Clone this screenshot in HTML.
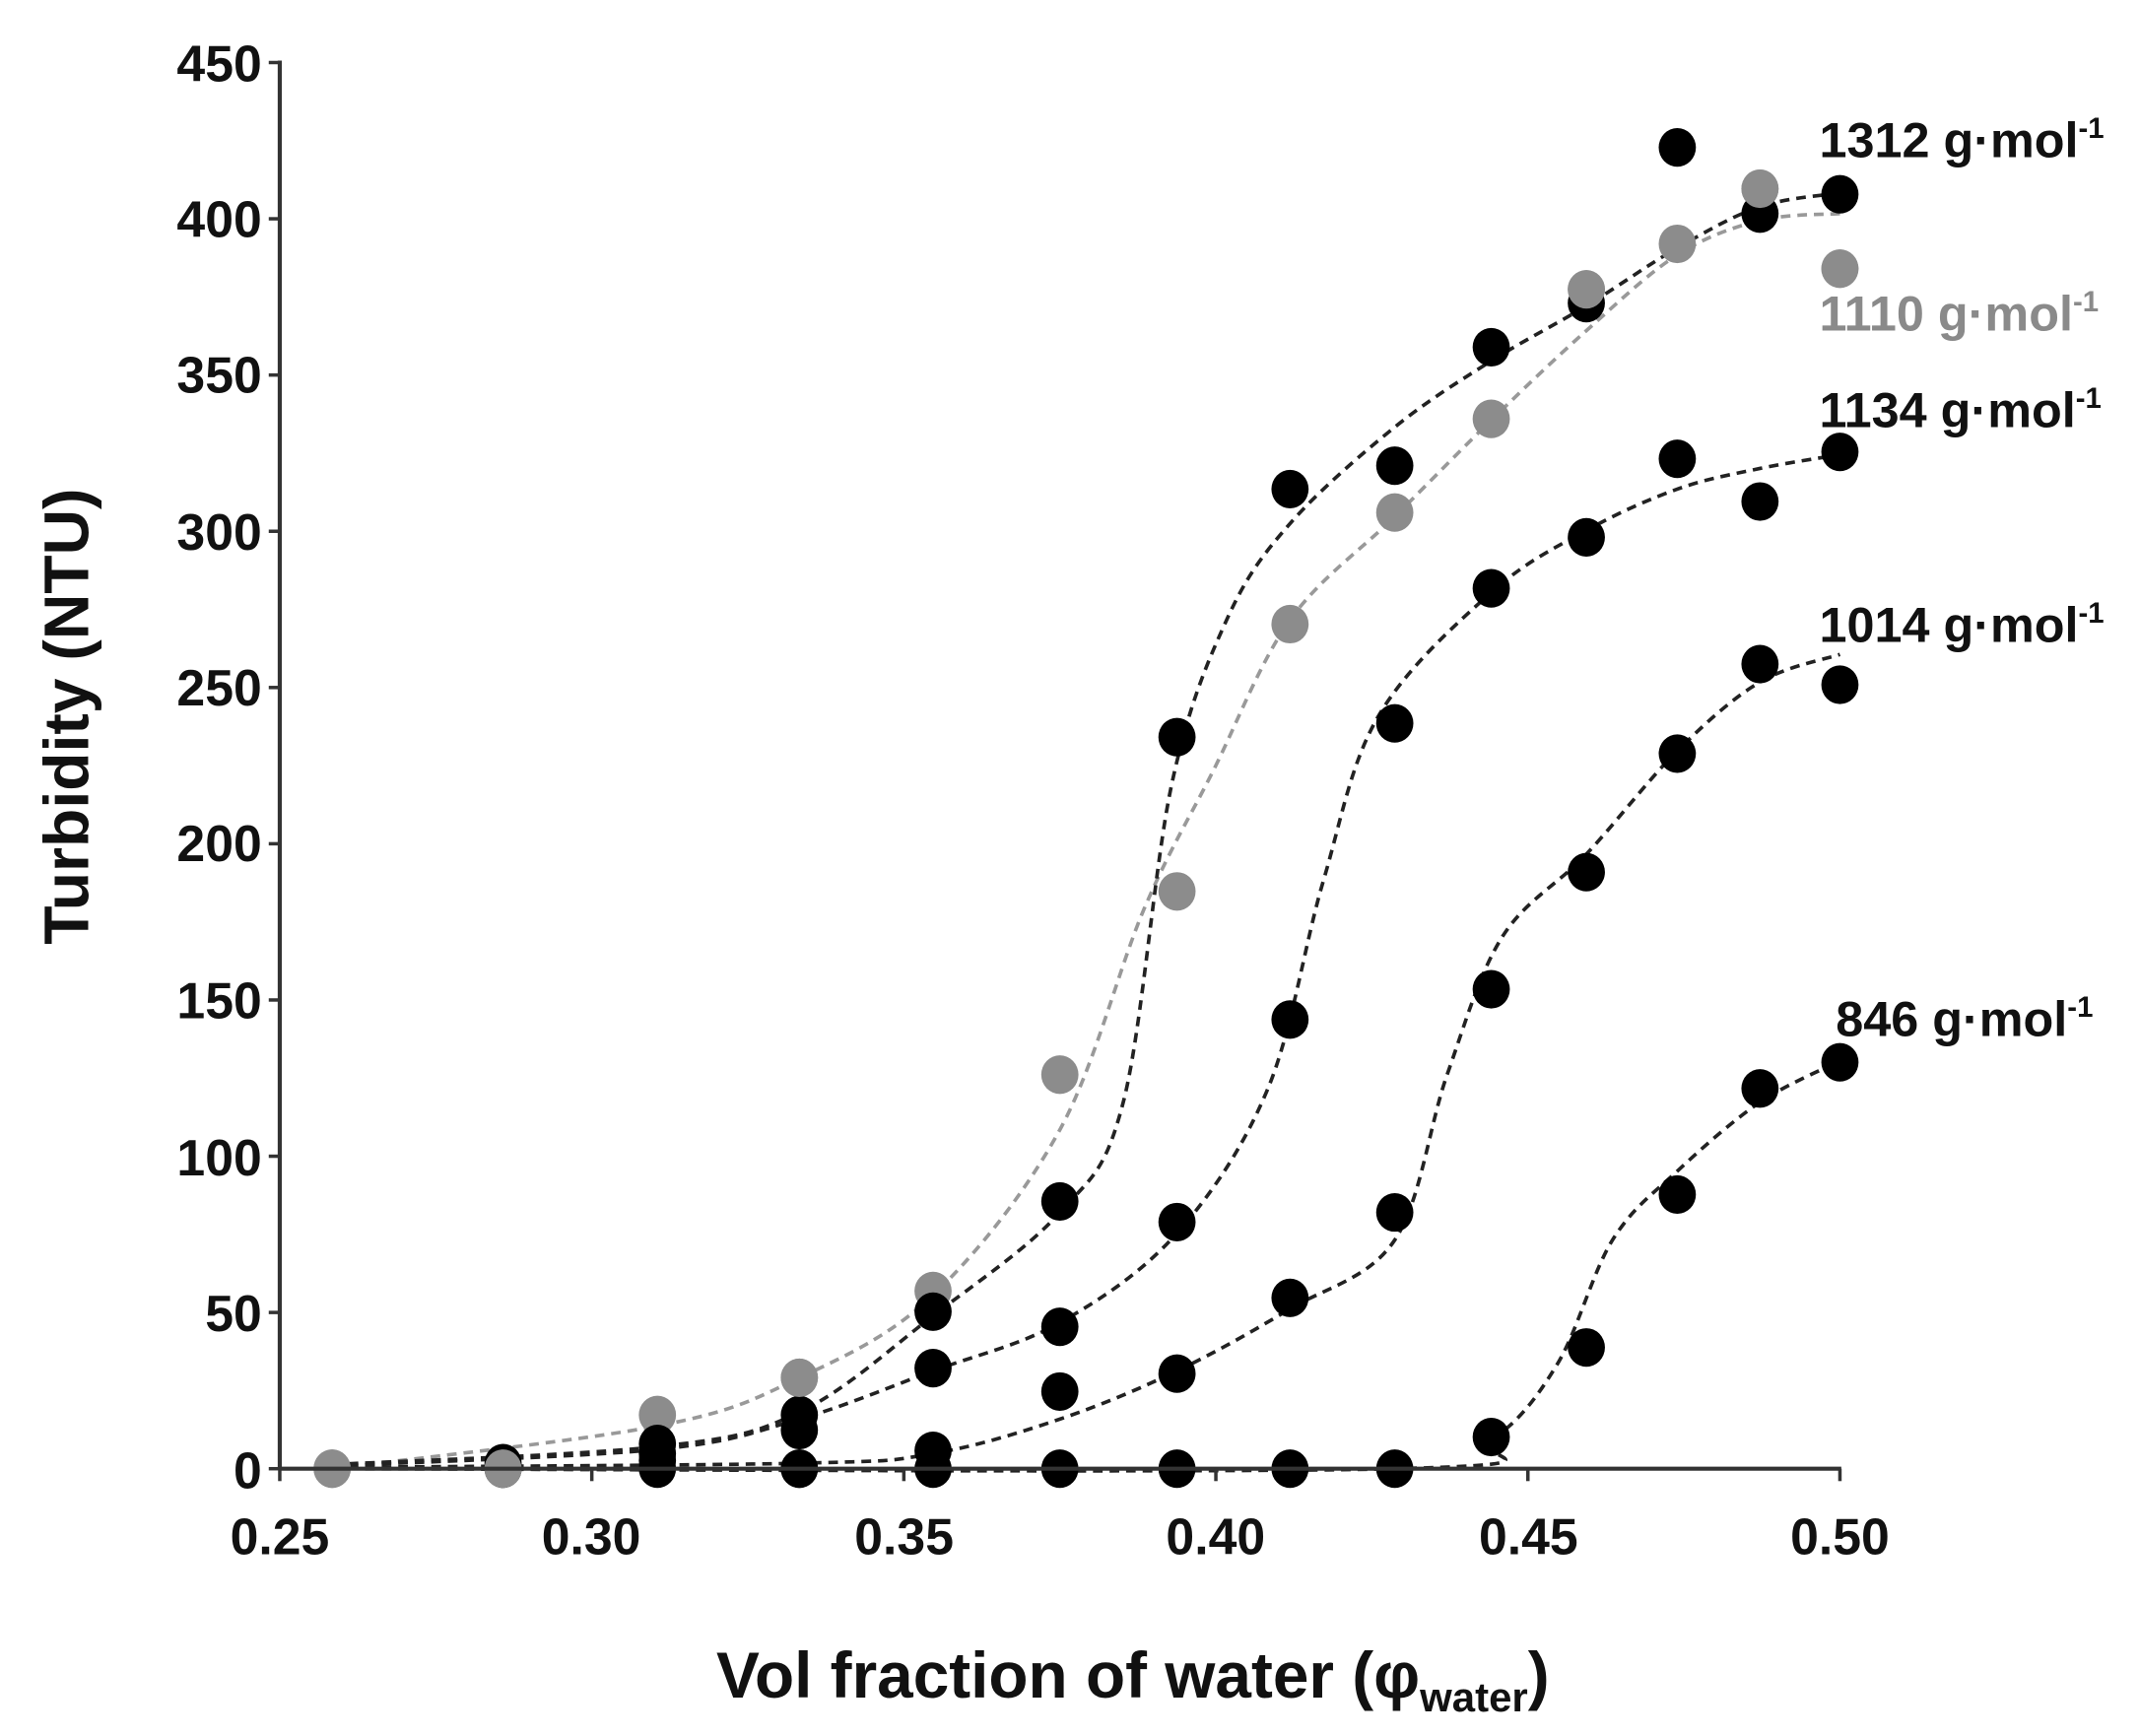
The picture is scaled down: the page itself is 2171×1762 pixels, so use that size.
<!DOCTYPE html>
<html><head><meta charset="utf-8"><style>
html,body{margin:0;padding:0;background:#fff;}
svg{display:block;}
text{font-family:"Liberation Sans",Arial,sans-serif;font-weight:bold;}
</style></head><body>
<svg id="s" width="2171" height="1762" viewBox="0 0 1552 1260" preserveAspectRatio="none" xmlns="http://www.w3.org/2000/svg">
<rect width="1552" height="1260" fill="#fff"/>
<g id="curves" fill="none" stroke-width="2.6" stroke-dasharray="7,5"></g>
<g id="pts"></g>
<g stroke="#333" stroke-width="3">
<line x1="203" y1="44" x2="203" y2="1067"/>
<line x1="202" y1="1066" x2="1336" y2="1066"/>
</g>
<g id="ticks" stroke="#333" stroke-width="2.5"></g>
<g font-size="37" text-anchor="end" fill="#111" transform="scale(1,1)">
<text x="190" y="59">450</text><text x="190" y="172">400</text><text x="190" y="285">350</text>
<text x="190" y="399">300</text><text x="190" y="512">250</text><text x="190" y="625">200</text>
<text x="190" y="739">150</text><text x="190" y="853">100</text><text x="190" y="966">50</text>
<text x="190" y="1080">0</text>
</g>
<g font-size="37" text-anchor="middle" fill="#111">
<text x="203" y="1128">0.25</text><text x="429" y="1128">0.30</text><text x="656" y="1128">0.35</text>
<text x="882" y="1128">0.40</text><text x="1109" y="1128">0.45</text><text x="1335" y="1128">0.50</text>
</g>
<text x="822" y="1232" font-size="47" text-anchor="middle" fill="#111">Vol fraction of water (φ<tspan font-size="30" dy="10">water</tspan><tspan dy="-10">)</tspan></text>
<text transform="translate(64,520) rotate(-90)" font-size="46" text-anchor="middle" fill="#111">Turbidity (NTU)</text>
<g font-size="36" fill="#111">
<text x="1320" y="114">1312 g·mol<tspan font-size="21" dy="-14">-1</tspan></text>
<text x="1320" y="240" fill="#8a8a8a">1110 g·mol<tspan font-size="21" dy="-14">-1</tspan></text>
<text x="1320" y="310">1134 g·mol<tspan font-size="21" dy="-14">-1</tspan></text>
<text x="1320" y="466">1014 g·mol<tspan font-size="21" dy="-14">-1</tspan></text>
<text x="1332" y="752">846 g·mol<tspan font-size="21" dy="-14">-1</tspan></text>
</g>
</svg>
<script>
var NS="http://www.w3.org/2000/svg";
function el(t,a,p){var e=document.createElementNS(NS,t);for(var k in a)e.setAttribute(k,a[k]);p.appendChild(e);return e;}
var tk=document.getElementById('ticks');
for(var i=0;i<10;i++){var y=1066-i*113.4;el('line',{x1:195,y1:y,x2:203,y2:y},tk);}
for(var i=0;i<6;i++){var x=203+i*226.4;el('line',{x1:x,y1:1066,x2:x,y2:1075},tk);}
function cr(p){var d="M"+p[0][0]+","+p[0][1];for(var i=0;i<p.length-1;i++){var p0=p[i-1]||p[i],p1=p[i],p2=p[i+1],p3=p[i+2]||p2;
d+=" C"+(p1[0]+(p2[0]-p0[0])/6)+","+(p1[1]+(p2[1]-p0[1])/6)+" "+(p2[0]-(p3[0]-p1[0])/6)+","+(p2[1]-(p3[1]-p1[1])/6)+" "+p2[0]+","+p2[1];}return d;}
var cv=document.getElementById('curves');
var curves=[
["#999",[[241,1066],[477,1035],[580,1000],[677,940],[769,820],[830,660],[880,560],[936,450],[1012,375],[1082,305],[1151,240],[1217,185],[1277,160],[1335,155]]],
["#222",[[241,1063],[477,1050],[580,1025],[677,955],[769,880],[815,800],[850,570],[890,450],[936,380],[1012,310],[1082,262],[1151,222],[1217,180],[1277,150],[1335,140]]],
["#222",[[241,1064],[477,1052],[580,1030],[677,995],[769,960],[854,895],[920,790],[960,640],[1000,520],[1082,430],[1151,385],[1217,355],[1277,340],[1335,330]]],
["#222",[[241,1065],[580,1062],[677,1055],[769,1030],[854,995],[936,950],[1012,900],[1050,780],[1090,680],[1151,620],[1217,545],[1277,495],[1335,475]]],
["#222",[[241,1066],[1012,1066],[1082,1045],[1130,990],[1170,900],[1217,850],[1277,800],[1335,770]]]];
curves.forEach(function(c){el('path',{d:cr(c[1]),stroke:c[0]},cv);});
var X=[241,365,477,580,677,769,854,936,1012,1082,1151,1217,1277,1335];
var pts=document.getElementById('pts');
var black=[
[null,1066,1066,1066,1066,1066,1066,1066,1066,1043,978,867,790,771],
[null,null,1060,1066,1053,1010,997,942,880,718,633,547,482,497],
[null,null,1048,1038,993,963,887,740,525,427,390,333,364,328],
[null,1062,1055,1027,952,872,535,355,338,252,220,107,155,141]];
var gray=[1066,1066,1027,1000,937,780,647,453,372,304,210,177,137,195];
var R=13.5;
gray.forEach(function(y,i){el('ellipse',{cx:X[i],cy:y,rx:R,ry:R+0.5,fill:'#8c8c8c'},pts);});
black.forEach(function(s){s.forEach(function(y,i){if(y!=null)el('ellipse',{cx:X[i],cy:y,rx:R,ry:R+0.5,fill:'#000'},pts);});});
[[580,1000],[1151,210],[1277,137],[1335,195],[241,1066],[365,1066]].forEach(function(p){el('ellipse',{cx:p[0],cy:p[1],rx:R,ry:R+0.5,fill:'#8c8c8c'},pts);});
</script>
</body></html>
